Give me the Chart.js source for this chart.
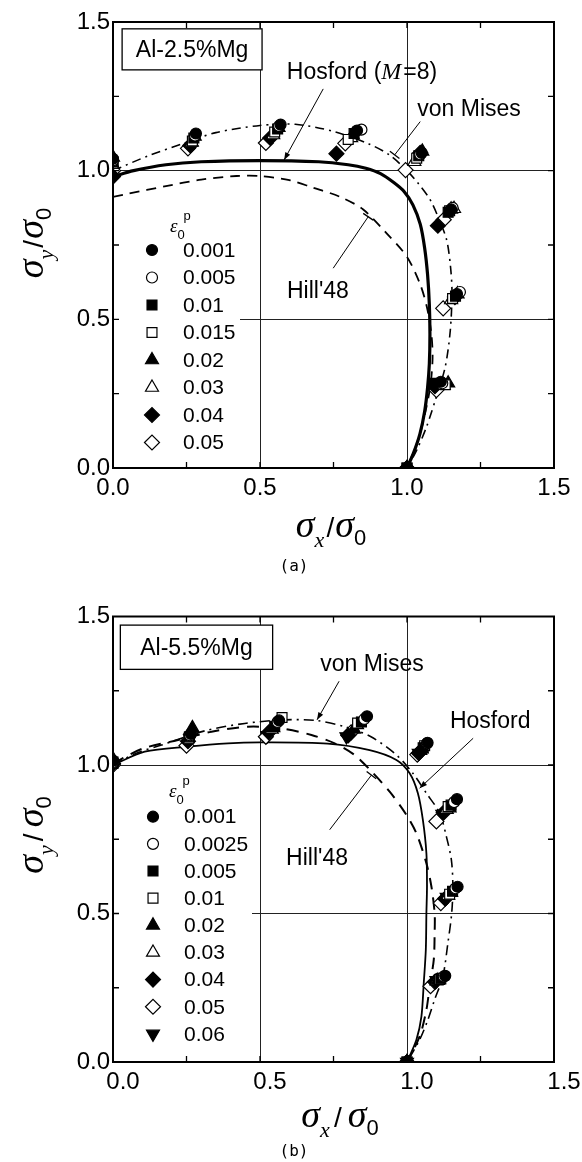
<!DOCTYPE html>
<html><head><meta charset="utf-8">
<script src="https://cdn.jsdelivr.net/npm/chart.js@4/dist/chart.umd.min.js"></script>
<style>
html,body{margin:0;padding:0;background:#fff;}
#wrap{position:relative;width:582px;height:1162px;background:#fff;}
canvas{position:absolute;left:0;}
</style></head><body>
<div id="wrap">
<canvas id="ca" style="top:0px" width="582" height="580"></canvas>
<canvas id="cb" style="top:580px" width="582" height="582"></canvas>
</div>
<script>
// ---------- shared axis values ----------
const axisTickValues = [0, 0.5, 1.0, 1.5];
const minorTickValues = [0.25, 0.5, 0.75, 1.0, 1.25];
const gridValues = [0.5, 1.0];

// ---------- chart (a): Al-2.5%Mg ----------
const aStrainLabels = ['0.001','0.005','0.01','0.015','0.02','0.03','0.04','0.05'];
const aVonMises = [[0,1.0],[0.12,1.05],[0.24,1.092],[0.35,1.128],[0.5,1.152],[0.62,1.156],[0.75,1.132],[0.87,1.09],[0.94,1.053],[1.0,1.0],[1.04,0.955],[1.08,0.9],[1.11,0.834],[1.135,0.767],[1.148,0.677],[1.153,0.59],[1.147,0.46],[1.13,0.34],[1.1,0.24],[1.067,0.14],[1.033,0.06],[1.0,0]];
const aHosford = [[0,0.98],[0.07,1.0],[0.18,1.02],[0.3,1.03],[0.5,1.034],[0.7,1.03],[0.8,1.02],[0.86,1.008],[0.91,0.99],[0.955,0.96],[0.99,0.93],[1.02,0.885],[1.045,0.82],[1.06,0.74],[1.07,0.65],[1.076,0.55],[1.078,0.45],[1.076,0.35],[1.07,0.27],[1.06,0.19],[1.044,0.115],[1.022,0.05],[1.0,0]];
const aHill48 = [[0,0.912],[0.05,0.922],[0.18,0.948],[0.3,0.97],[0.42,0.982],[0.5,0.982],[0.6,0.968],[0.68,0.943],[0.77,0.913],[0.85,0.87],[0.93,0.79],[1.0,0.71],[1.044,0.62],[1.068,0.54],[1.083,0.45],[1.087,0.37],[1.08,0.28],[1.065,0.2],[1.04,0.1],[1.0,0]];
const aEps0001 = [[0,1.04],[0.282,1.125],[0.57,1.155],[0.83,1.135],[1.05,1.06],[1.15,0.87],[1.17,0.585],[1.115,0.29],[1,0]];
const aEps0005 = [[0,1.035],[0.279,1.118],[0.565,1.15],[0.845,1.138],[1.045,1.055],[1.155,0.875],[1.18,0.592],[1.12,0.285],[1,0]];
const aEps0010 = [[0,1.03],[0.275,1.11],[0.56,1.14],[0.82,1.125],[1.04,1.05],[1.14,0.86],[1.165,0.578],[1.09,0.285],[1,0]];
const aEps0015 = [[0,1.025],[0.27,1.1],[0.55,1.13],[0.8,1.105],[1.033,1.042],[1.145,0.865],[1.155,0.57],[1.13,0.28],[1,0]];
const aEps0020 = [[0,1.045],[0.278,1.115],[0.563,1.145],[0.815,1.12],[1.052,1.065],[1.15,0.87],[1.172,0.585],[1.14,0.285],[1,0]];
const aEps0030 = [[0,1.02],[0.268,1.095],[0.545,1.12],[0.81,1.11],[1.025,1.03],[1.16,0.872],[1.15,0.565],[1.125,0.277],[1,0]];
const aEps0040 = [[0,0.98],[0.263,1.085],[0.535,1.11],[0.76,1.057],[1.045,1.06],[1.105,0.815],[1.163,0.575],[1.095,0.275],[1,0]];
const aEps0050 = [[0,1.0],[0.255,1.075],[0.52,1.093],[0.79,1.092],[0.995,1.002],[1.125,0.835],[1.123,0.537],[1.1,0.262],[1,0]];

// ---------- chart (b): Al-5.5%Mg ----------
const bStrainLabels = ['0.001','0.0025','0.005','0.01','0.02','0.03','0.04','0.05','0.06'];
const bVonMises = [[0,1.0],[0.08,1.04],[0.165,1.067],[0.312,1.115],[0.448,1.14],[0.584,1.152],[0.69,1.15],[0.788,1.129],[0.876,1.096],[0.964,1.034],[1.02,0.972],[1.066,0.905],[1.111,0.838],[1.134,0.759],[1.151,0.68],[1.156,0.591],[1.152,0.501],[1.139,0.4],[1.122,0.288],[1.094,0.21],[1.071,0.142],[1.043,0.075],[1.0,0]];
const bHosford = [[0,1.0],[0.108,1.045],[0.255,1.062],[0.391,1.073],[0.505,1.076],[0.73,1.072],[0.873,1.05],[0.964,1.017],[1.009,0.972],[1.037,0.905],[1.054,0.815],[1.066,0.703],[1.068,0.591],[1.066,0.501],[1.064,0.378],[1.057,0.266],[1.049,0.153],[1.032,0.075],[1.0,0]];
const bHill48 = [[0,1.005],[0.1,1.055],[0.221,1.084],[0.335,1.112],[0.459,1.129],[0.573,1.123],[0.675,1.101],[0.754,1.073],[0.82,1.035],[0.873,0.985],[0.941,0.91],[0.998,0.832],[1.032,0.77],[1.066,0.669],[1.083,0.591],[1.094,0.5],[1.094,0.434],[1.091,0.344],[1.077,0.254],[1.066,0.176],[1.043,0.086],[1.0,0]];
const bEps00010 = [[0,1.015],[0.265,1.105],[0.565,1.15],[0.864,1.164],[1.07,1.075],[1.17,0.885],[1.172,0.59],[1.13,0.29],[1,0]];
const bEps00025 = [[0,1.01],[0.262,1.1],[0.56,1.145],[0.855,1.155],[1.068,1.073],[1.16,0.875],[1.165,0.585],[1.125,0.288],[1,0]];
const bEps00050 = [[0,1.005],[0.26,1.095],[0.55,1.13],[0.845,1.145],[1.055,1.058],[1.15,0.865],[1.155,0.575],[1.115,0.28],[1,0]];
const bEps00100 = [[0,1.01],[0.258,1.09],[0.575,1.16],[0.832,1.141],[1.06,1.065],[1.14,0.86],[1.145,0.565],[1.11,0.278],[1,0]];
const bEps00200 = [[0,1.02],[0.27,1.125],[0.545,1.125],[0.82,1.12],[1.045,1.048],[1.145,0.855],[1.15,0.57],[1.105,0.275],[1,0]];
const bEps00300 = [[0,1.015],[0.268,1.115],[0.54,1.12],[0.83,1.135],[1.05,1.053],[1.135,0.85],[1.14,0.56],[1.1,0.272],[1,0]];
const bEps00400 = [[0,1.005],[0.255,1.08],[0.53,1.11],[0.8,1.1],[1.04,1.04],[1.125,0.84],[1.13,0.55],[1.095,0.27],[1,0]];
const bEps00500 = [[0,1.0],[0.25,1.065],[0.52,1.095],[0.81,1.11],[1.035,1.035],[1.1,0.81],[1.115,0.535],[1.08,0.255],[1,0]];
const bEps00600 = [[0,1.0],[0.262,1.09],[0.525,1.1],[0.794,1.096],[1.04,1.04],[1.12,0.835],[1.135,0.555],[1.1,0.275],[1,0]];

// ---------- styles ----------
const MK = {
  fc:{style:'circle',fill:true,r:5.5}, oc:{style:'circle',fill:false,r:5.5},
  fs:{style:'rect',fill:true,r:7}, os:{style:'rect',fill:false,r:7},
  ft:{style:'triangle',fill:true,r:7.5}, ot:{style:'triangle',fill:false,r:7.5},
  fd:{style:'rectRot',fill:true,r:7.5}, od:{style:'rectRot',fill:false,r:7.5},
  fv:{style:'triangle',fill:true,r:7.5,rot:180}
};
const aMarkers = [MK.fc,MK.oc,MK.fs,MK.os,MK.ft,MK.ot,MK.fd,MK.od];
const bMarkers = [MK.fc,MK.oc,MK.fs,MK.os,MK.ft,MK.ot,MK.fd,MK.od,MK.fv];

const SANS = '"Liberation Sans", Arial, sans-serif';
const SERIF = '"Liberation Serif", "DejaVu Serif", serif';
Chart.defaults.font.family = SANS;
Chart.defaults.color = '#000';

const toXY = arr => arr.map(p => ({x:p[0], y:p[1]}));

function lineDs(data, width, dash) {
  return {type:'scatter', data: toXY(data), showLine:true, pointRadius:0, pointHoverRadius:0,
    borderColor:'#000', borderWidth:width, borderDash:dash, tension:0.3, order:10, fill:false};
}
function markDs(label, data, m) {
  return {type:'scatter', label, data: toXY(data), pointStyle:m.style, pointRadius:m.r, pointHoverRadius:m.r,
    pointRotation:m.rot||0, pointBackgroundColor: m.fill ? '#000' : '#fff', pointBorderColor:'#000',
    pointBorderWidth:1.2, showLine:false, order:1};
}

function drawMarker(ctx, m, x, y) {
  const r = m.r; let rad = (m.rot||0) * Math.PI/180;
  ctx.save();
  ctx.beginPath();
  if (m.style === 'circle') { ctx.arc(x, y, r, 0, Math.PI*2); }
  else if (m.style === 'rect') { const s = Math.SQRT1_2*r; ctx.rect(x-s, y-s, 2*s, 2*s); }
  else if (m.style === 'triangle') {
    for (let i=0;i<3;i++){ const px=x+Math.sin(rad)*r, py=y-Math.cos(rad)*r; i?ctx.lineTo(px,py):ctx.moveTo(px,py); rad+=2*Math.PI/3; }
  } else if (m.style === 'rectRot') {
    ctx.moveTo(x-r,y); ctx.lineTo(x,y-r); ctx.lineTo(x+r,y); ctx.lineTo(x,y+r);
  }
  ctx.closePath();
  ctx.fillStyle = m.fill ? '#000' : '#fff'; ctx.fill();
  ctx.lineWidth = 1.2; ctx.strokeStyle = '#000'; ctx.stroke();
  ctx.restore();
}

// draw a run of text pieces: [{t, font, dy}]
function runWidth(ctx, pieces){ let w=0; pieces.forEach(p=>{ctx.font=p.font; w+=ctx.measureText(p.t).width + (p.gap||0);}); return w; }
function drawRun(ctx, pieces, x, y){ let cx=x; ctx.textBaseline='alphabetic'; ctx.textAlign='left'; pieces.forEach(p=>{ctx.font=p.font; ctx.fillText(p.t, cx, y+(p.dy||0)); cx+=ctx.measureText(p.t).width+(p.gap||0);}); }

function sigmaTitle(sub, spaced){
  return [
    {t:'σ', font:'italic 38px '+SERIF},
    {t:sub, font:'italic 22px '+SERIF, dy:10, gap: spaced?4:2},
    {t:'/', font:'28px '+SANS, gap: spaced?6:1},
    {t:'σ', font:'italic 38px '+SERIF},
    {t:'0', font:'22px '+SANS, dy:8}
  ];
}

function leader(ctx, x0, y0, x1, y1, end){
  ctx.save(); ctx.strokeStyle='#000'; ctx.fillStyle='#000'; ctx.lineWidth=1;
  ctx.beginPath(); ctx.moveTo(x0,y0); ctx.lineTo(x1,y1); ctx.stroke();
  const ang = Math.atan2(y1-y0, x1-x0);
  if (end === 'bar') {
    const nx = -Math.sin(ang)*6, ny = Math.cos(ang)*6;
    ctx.lineWidth=1.3; ctx.beginPath(); ctx.moveTo(x1-nx,y1-ny); ctx.lineTo(x1+nx,y1+ny); ctx.stroke();
  } else {
    const L=8, W=0.35;
    ctx.beginPath(); ctx.moveTo(x1,y1);
    ctx.lineTo(x1-L*Math.cos(ang-W), y1-L*Math.sin(ang-W));
    ctx.lineTo(x1-L*Math.cos(ang+W), y1-L*Math.sin(ang+W));
    ctx.closePath(); ctx.fill();
  }
  ctx.restore();
}

function decoPlugin(D){
  return {
    id:'deco',
    beforeDatasetsDraw(chart){
      const {ctx, chartArea:a, scales:{x,y}} = chart;
      ctx.save();
      ctx.fillStyle='#fff';
      ctx.fillRect(a.left+1, D.legend.boxTop, D.legend.boxRight-a.left-1, D.legend.boxBottom-D.legend.boxTop);
      const bx0=x.getPixelForValue(D.box.x0), bx1=x.getPixelForValue(D.box.x1);
      const by0=y.getPixelForValue(D.box.y0), by1=y.getPixelForValue(D.box.y1);
      ctx.fillRect(bx0,by0,bx1-bx0,by1-by0);
      ctx.strokeStyle='#000'; ctx.lineWidth=1.3; ctx.strokeRect(bx0,by0,bx1-bx0,by1-by0);
      ctx.fillStyle='#000'; ctx.font='23px '+SANS; ctx.textAlign='center'; ctx.textBaseline='middle';
      ctx.fillText(D.box.text, (bx0+bx1)/2, (by0+by1)/2+1);
      ctx.restore();
    },
    afterDatasetsDraw(chart){
      const {ctx, chartArea:a, scales:{x,y}} = chart;
      ctx.save();
      // frame
      ctx.strokeStyle='#000'; ctx.lineWidth=2;
      ctx.strokeRect(a.left, a.top, a.right-a.left, a.bottom-a.top);
      // inward ticks on all sides
      ctx.lineWidth=1.3;
      minorTickValues.forEach(v=>{
        const px=x.getPixelForValue(v), py=y.getPixelForValue(v);
        ctx.beginPath();
        ctx.moveTo(px,a.bottom); ctx.lineTo(px,a.bottom-6);
        ctx.moveTo(px,a.top); ctx.lineTo(px,a.top+6);
        ctx.moveTo(a.left,py); ctx.lineTo(a.left+6,py);
        ctx.moveTo(a.right,py); ctx.lineTo(a.right-6,py);
        ctx.stroke();
      });
      // legend
      const L = D.legend;
      ctx.fillStyle='#000';
      drawRun(ctx,[{t:'ε',font:'italic 19px '+SERIF}],L.titleX,L.titleY);
      ctx.font='italic 19px '+SERIF; const ew=ctx.measureText('ε').width;
      drawRun(ctx,[{t:'0',font:'13px '+SANS}],L.titleX+ew,L.titleY+7);
      drawRun(ctx,[{t:'p',font:'13px '+SANS}],L.titleX+ew+6,L.titleY-12);
      L.labels.forEach((lab,i)=>{
        const ry = L.firstY + i*L.step;
        drawMarker(ctx, L.markers[i], L.markerX, ry);
        ctx.fillStyle='#000'; ctx.font='21px '+SANS; ctx.textAlign='left'; ctx.textBaseline='middle';
        ctx.fillText(lab, L.textX, ry+1);
      });
      // annotations
      D.notes.forEach(n=>{
        const tx=x.getPixelForValue(n.tx), ty=y.getPixelForValue(n.ty);
        const w=runWidth(ctx,n.pieces);
        ctx.fillStyle='#000';
        drawRun(ctx,n.pieces,tx-w/2,ty+8);
        leader(ctx, x.getPixelForValue(n.lx0), y.getPixelForValue(n.ly0), x.getPixelForValue(n.lx1), y.getPixelForValue(n.ly1), n.end);
      });
      // axis titles
      const xt = sigmaTitle('x', D.spaced);
      const xw = runWidth(ctx, xt);
      ctx.fillStyle='#000';
      drawRun(ctx, xt, D.xTitle.cx - xw/2, D.xTitle.base);
      const yt = sigmaTitle('y', D.spaced);
      const yw = runWidth(ctx, yt);
      ctx.save(); ctx.translate(D.yTitle.base, D.yTitle.cy); ctx.rotate(-Math.PI/2);
      drawRun(ctx, yt, -yw/2, 0); ctx.restore();
      // caption
      ctx.font='16px "DejaVu Sans Mono", monospace'; ctx.textAlign='center'; ctx.textBaseline='middle';
      ctx.fillText(D.caption.text, D.caption.cx, D.caption.cy);
      ctx.restore();
    }
  };
}

function makeChart(id, H, pad, datasets, D, labelOffset){
  const gridColor = c => gridValues.includes(c.tick && c.tick.value) ? '#222' : 'rgba(0,0,0,0)';
  return new Chart(document.getElementById(id), {
    type:'scatter',
    data:{datasets},
    options:{
      responsive:false, devicePixelRatio:1, animation:false,
      layout:{padding:{left:0, top:pad.top, right:pad.right, bottom:0}},
      plugins:{legend:{display:false}, tooltip:{enabled:false}},
      scales:{
        x:{type:'linear', min:0, max:1.5, afterBuildTicks: s => { s.ticks = axisTickValues.map(v=>({value:v})); },
           ticks:{font:{size:24, family:SANS}, color:'#000', padding:6, labelOffset:labelOffset, maxRotation:0,
                  callback:v=>Number(v).toFixed(1)},
           grid:{color:gridColor, lineWidth:1, drawTicks:false}, border:{display:false},
           afterFit: s => { s.height = pad.xh; }},
        y:{type:'linear', min:0, max:1.5, afterBuildTicks: s => { s.ticks = axisTickValues.map(v=>({value:v})); },
           ticks:{font:{size:24, family:SANS}, color:'#000', padding:3, callback:v=>Number(v).toFixed(1)},
           grid:{color:gridColor, lineWidth:1, drawTicks:false}, border:{display:false},
           afterFit: s => { s.width = 113; }}
      }
    },
    plugins:[decoPlugin(D)]
  });
}

// ----- chart (a) -----
const aSeries = [aEps0001,aEps0005,aEps0010,aEps0015,aEps0020,aEps0030,aEps0040,aEps0050];
const aDatasets = aSeries.map((s,i)=>markDs(aStrainLabels[i], s, aMarkers[i])).concat([
  lineDs(aHosford, 3.2, []),
  lineDs(aVonMises, 1.6, [9,5,2,5]),
  lineDs(aHill48, 1.8, [10,7])
]);
makeChart('ca', 580, {top:22, right:28, xh:112}, aDatasets, {
  box:{x0:0.031, x1:0.507, y0:1.477, y1:1.339, text:'Al-2.5%Mg'},
  legend:{labels:aStrainLabels, markers:aMarkers, markerX:152, textX:183, firstY:250, step:27.5,
          titleX:170, titleY:232, boxTop:202, boxRight:240, boxBottom:458},
  notes:[
    {pieces:[{t:'Hosford (',font:'23px '+SANS},{t:'M',font:'italic 24px '+SERIF, gap:2},{t:'=8)',font:'23px '+SANS}],
     tx:0.847, ty:1.335, lx0:0.715, ly0:1.275, lx1:0.582, ly1:1.036, end:'arrow'},
    {pieces:[{t:'von Mises',font:'23px '+SANS}], tx:1.211, ty:1.211, lx0:1.045, ly0:1.165, lx1:0.958, ly1:1.053, end:'bar'},
    {pieces:[{t:"Hill'48",font:'23px '+SANS}], tx:0.697, ty:0.599, lx0:0.749, ly0:0.672, lx1:0.868, ly1:0.845, end:'bar'}
  ],
  spaced:false,
  xTitle:{cx:331, base:537}, yTitle:{cy:243, base:43},
  caption:{text:'(a)', cx:294, cy:567}
}, 0);

// ----- chart (b) -----
const bSeries = [bEps00010,bEps00025,bEps00050,bEps00100,bEps00200,bEps00300,bEps00400,bEps00500,bEps00600];
const bDatasets = bSeries.map((s,i)=>markDs(bStrainLabels[i], s, bMarkers[i])).concat([
  lineDs(bHosford, 1.8, []),
  lineDs(bVonMises, 1.6, [10,5,2,5]),
  lineDs(bHill48, 2, [12,8])
]);
makeChart('cb', 582, {top:36.5, right:28, xh:100}, bDatasets, {
  box:{x0:0.025, x1:0.543, y0:1.471, y1:1.322, text:'Al-5.5%Mg'},
  legend:{labels:bStrainLabels, markers:bMarkers, markerX:153, textX:184, firstY:236.7, step:27.15,
          titleX:169, titleY:217, boxTop:192, boxRight:252, boxBottom:470},
  notes:[
    {pieces:[{t:'von Mises',font:'23px '+SANS}], tx:0.881, ty:1.343, lx0:0.769, ly0:1.282, lx1:0.694, ly1:1.152, end:'arrow'},
    {pieces:[{t:'Hosford',font:'23px '+SANS}], tx:1.283, ty:1.152, lx0:1.225, ly0:1.09, lx1:1.043, ly1:0.922, end:'arrow'},
    {pieces:[{t:"Hill'48",font:'23px '+SANS}], tx:0.694, ty:0.69, lx0:0.737, ly0:0.782, lx1:0.879, ly1:0.966, end:'bar'}
  ],
  spaced:true,
  xTitle:{cx:340, base:546.5}, yTitle:{cy:255, base:43},
  caption:{text:'(b)', cx:294, cy:572}
}, 10);
</script>
</body></html>
